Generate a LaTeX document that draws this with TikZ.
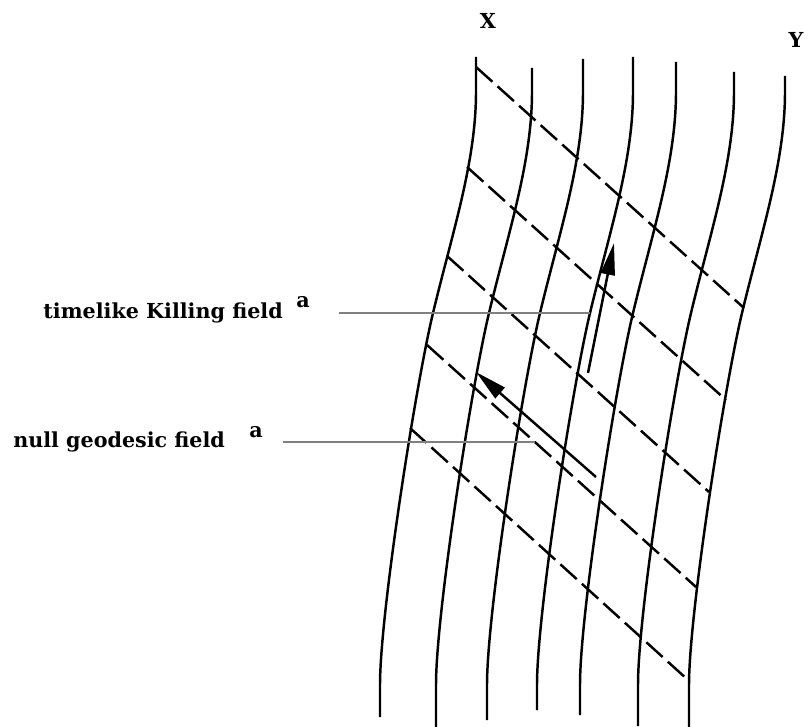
\documentclass[tikz,border=0pt]{standalone}
\usepackage{fontspec}
\setmainfont{DejaVu Serif}
\usepackage{tikz}
\usepackage{xcolor}
\usetikzlibrary{arrows.meta}
\definecolor{InkCol}{RGB}{0,0,0}
\definecolor{LeadCol}{RGB}{128,128,128}
\tikzset{
  kgworld/.style={line width=1.85pt, draw=InkCol},
  kgnull/.style={line width=1.85pt, draw=InkCol, dash pattern=on 16.5pt off 5.25pt},
  kgvec/.style={-{Triangle[length=24pt,width=10.5pt]}, line width=1.85pt, draw=InkCol},
  kglead/.style={line width=1pt, draw=LeadCol},
  kglab/.style={font=\fontsize{15.5}{17}\selectfont\bfseries, inner sep=0pt}
}
% one worldline of the Killing congruence, shifted by #1, from #2 down to #3
\newcommand{\KGWorldline}[3]{%
  \draw[kgworld] (476+#1,#2) -- (476+#1,92)
    .. controls (476+#1,162) and (452.2+#1,233) .. (433+#1,313)
    .. controls (415.7+#1,385) and (380+#1,613) .. (380+#1,685)
    -- (380+#1,#3);
}

\begin{document}
\begin{tikzpicture}[x=0.75pt,y=-0.75pt]
  \useasboundingbox (0,0) rectangle (811,727);
  % worldlines
  \foreach \dx/\ytop/\ybot in {0/57/717,56/68/727,107/59/720,157/57/710,
    200/62/715,258/72/726,309/76/730}{%
    \KGWorldline{\dx}{\ytop}{\ybot}}
  % null generators
  \draw[kgnull] (476,67) -- (744,308);
  \draw[kgnull] (467,167) -- (726,400);
  \draw[kgnull] (447,256) -- (709,492);
  \draw[kgnull] (427,345) -- (696,587);
  \draw[kgnull] (410,428) -- (688,680);
  % end labels
  \node[kglab] (xlab) at (488,21) {X};
  \node[kglab] (ylab) at (796,40) {Y};
  % vectors
  \coordinate (ktail) at (588,373);
  \coordinate (khead) at (614,243);
  \draw[kgvec] (ktail) -- (khead);
  \coordinate (ntail) at (596,477);
  \coordinate (nhead) at (476,372);
  \draw[kgvec] (ntail) -- (nhead);
  % labels and leaders
  \node[kglab, anchor=base east] (killlab) at (283,319) {timelike Killing field};
  \node[kglab, anchor=base west] (killsup) at (296,308) {a};
  \coordinate (kfoot) at (339,313);
  \coordinate (kend) at (590,313);
  \draw[kglead] (kfoot) -- (kend);
  \node[kglab, anchor=base west] (nulllab) at (13,448) {null geodesic field};
  \node[kglab, anchor=base west] (nullsup) at (249,437) {a};
  \coordinate (nfoot) at (283,442);
  \coordinate (nend) at (535,442);
  \draw[kglead] (nfoot) -- (nend);
\end{tikzpicture}
\end{document}
